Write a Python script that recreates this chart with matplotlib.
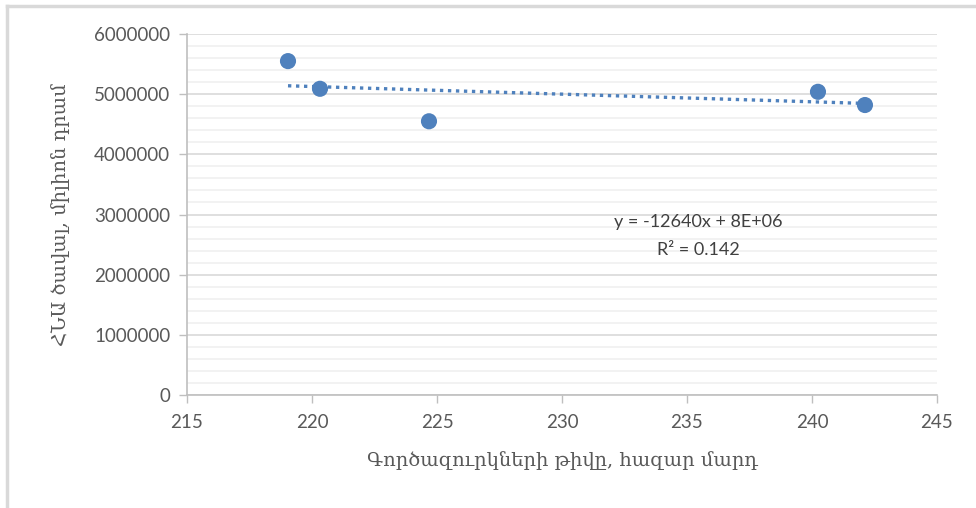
import numpy as np
import matplotlib
matplotlib.use("Agg")
from matplotlib import pyplot as plt
from matplotlib.lines import Line2D
from matplotlib.ticker import StrMethodFormatter

# data
workers = [219.04, 220.32, 224.68, 240.24, 242.12]          # thousand people
gdp = [5550000, 5090000, 4550000, 5040000, 4820000]         # mln dram

x_ticks = [215, 220, 225, 230, 235, 240, 245]
y_ticks = [0, 1000000, 2000000, 3000000, 4000000, 5000000, 6000000]

x_label = "Գործազուրկների թիվը, հազար մարդ"
y_label = "ՀՆԱ ծավալ, միլիոն դրամ"
eq_text = "y = -12640x + 8E+06"
r2_text = "R² = 0.142"

blue = "#4F81BD"
tick_col = "#595959"

fig = plt.figure(figsize=(9.76, 5.08), dpi=100)
ax = fig.add_axes([0.1916, 0.2224, 0.7684, 0.7106])

ax.set_xlim(215, 245)
ax.set_ylim(0, 6000000)
ax.set_xticks(x_ticks)
ax.set_yticks(y_ticks)
ax.yaxis.set_major_formatter(StrMethodFormatter("{x:.0f}"))
ax.set_yticks(np.arange(0, 6000001, 200000), minor=True)
ax.tick_params(axis="y", which="minor", length=0)
ax.tick_params(axis="both", which="major", colors="#BFBFBF", length=6,
               labelcolor=tick_col, labelsize=13.5, width=1)
for lbl in ax.get_xticklabels() + ax.get_yticklabels():
    lbl.set_family("Lato")
ax.tick_params(axis="x", pad=8)
ax.tick_params(axis="y", pad=6)

ax.grid(axis="y", which="major", color="#D9D9D9", lw=1.2)
ax.grid(axis="y", which="minor", color="#F0F0F0", lw=1.2)
ax.set_axisbelow(True)

for s in ["top", "right"]:
    ax.spines[s].set_visible(False)
for s in ["left", "bottom"]:
    ax.spines[s].set_color("#BFBFBF")
    ax.spines[s].set_linewidth(1.2)

# linear trendline
k, b = np.polyfit(workers, gdp, 1)
xt = np.array([min(workers), max(workers)])
ax.plot(xt, k * xt + b, color=blue, lw=2.4, linestyle=(0, (1, 1.4)), zorder=2)

ax.scatter(workers, gdp, s=135, color=blue, zorder=3, edgecolors="none")

ax.text(235.45, 2870000, eq_text, ha="center", va="center", fontsize=13,
        color="#404040", family="Lato")
ax.text(235.45, 2410000, r2_text, ha="center", va="center", fontsize=13,
        color="#404040", family="Lato")

ax.set_xlabel(x_label, fontsize=14, color=tick_col, family="DejaVu Serif",
              labelpad=14)
ax.set_ylabel(y_label, fontsize=14, color=tick_col, family="DejaVu Serif",
              labelpad=17)

# chart frame
fig.add_artist(Line2D([0.0072, 0.0072], [0, 0.988], color="#D9D9D9", lw=2.5,
                      transform=fig.transFigure))
fig.add_artist(Line2D([0.0072, 1], [0.988, 0.988], color="#D9D9D9", lw=2.5,
                      transform=fig.transFigure))

fig.savefig("out.png", dpi=100)
